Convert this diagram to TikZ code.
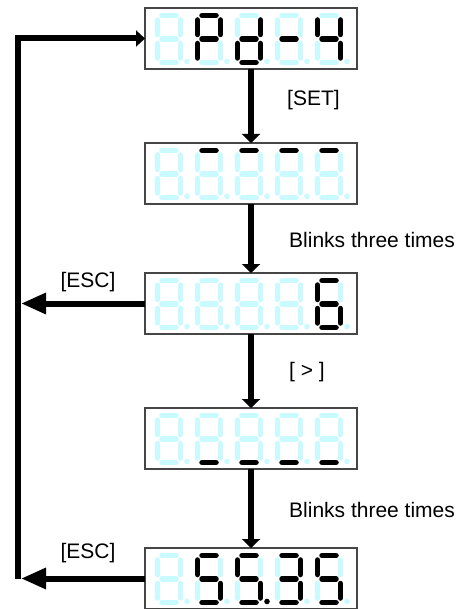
\documentclass[tikz,border=0pt]{standalone}
\usepackage{fontspec}
\setmainfont{Liberation Sans}
\usetikzlibrary{arrows.meta, positioning, calc}

\definecolor{segoff}{RGB}{200,250,255}
\definecolor{frame}{RGB}{70,70,70}

% one digit: #1 = a b c d e f g dp (1 = lit, 0 = dark)
\def\segs#1#2#3#4#5#6#7#8\relax{%
  \draw[seg, s#1] (4.5,0) -- (18.5,0);
  \draw[seg, s#2] (23,4.5) -- (23,19);
  \draw[seg, s#3] (23,28) -- (23,42.5);
  \draw[seg, s#4] (4.5,47) -- (18.5,47);
  \draw[seg, s#5] (0,28) -- (0,42.5);
  \draw[seg, s#6] (0,4.5) -- (0,19);
  \draw[seg, s#7] (4.5,23.5) -- (18.5,23.5);
  \fill[s#8] (29.5,46) circle (2.8);
}
\newcommand{\segdig}[3]{%
  \begin{scope}[shift={($(#1.north west)+(12.5+40*#2,7.5)$)}]
    \segs#3\relax
  \end{scope}}
\newcommand{\showdisp}[6]{%
  \segdig{#1}{0}{#2}\segdig{#1}{1}{#3}\segdig{#1}{2}{#4}%
  \segdig{#1}{3}{#5}\segdig{#1}{4}{#6}}

\tikzset{
  disp/.style={draw=frame, fill=white, line width=1.2pt, outer sep=0pt,
    minimum width=212pt, minimum height=61pt, inner sep=0pt},
  seg/.style={line width=5.5pt, line cap=round},
  s0/.style={color=segoff},
  s1/.style={color=black},
  down/.style={line width=5.5pt, -{Triangle[length=9pt, width=18pt]}},
  esc/.style={line width=6pt, -{Triangle[length=25pt, width=20pt]}},
  lbl/.style={font=\fontsize{21}{25}\selectfont, inner sep=0pt}
}

\begin{document}
\begin{tikzpicture}[x=1pt, y=-1pt]
    \useasboundingbox (0,0) rectangle (461,609);

    % displays
    \node[disp] (d1) at (251,38.5) {};
    \node[disp] (d2) at (251,173.5) {};
    \node[disp] (d3) at (251,303.5) {};
    \node[disp] (d4) at (251,438.5) {};
    \node[disp] (d5) at (251,578.5) {};

    \showdisp{d1}{00000000}{11001110}{01111010}{00000010}{01100110}
    \showdisp{d2}{00000000}{10000000}{10000000}{10000000}{10000000}
    \showdisp{d3}{00000000}{00000000}{00000000}{00000000}{10111110}
    \showdisp{d4}{00000000}{00010000}{00010000}{00010000}{00010000}
    \showdisp{d5}{00000000}{10110110}{10110111}{11110010}{10110110}

    % steps down
    \draw[down] (d1) -- (d2);
    \draw[down] (d2) -- (d3);
    \draw[down] (d3) -- (d4);
    \draw[down] (d4) -- (d5);

    \node[lbl, anchor=west] (set) at (287,100) {[SET]};
    \node[lbl, anchor=west] (bl1) at (289,240) {Blinks three times};
    \node[lbl, anchor=west] (nxt) at (289,372) {[ > ]};
    \node[lbl, anchor=west] (bl2) at (289,510) {Blinks three times};

    % back to the start
    \coordinate (lx) at (18,0);
    \draw[esc] (d3.west) -- ([xshift=3pt]d3.west -| lx);
    \draw[esc] (d5.west) -- ([xshift=3pt]d5.west -| lx);
    \draw[line width=6pt, -{Triangle[length=9pt, width=16pt]}]
        (d5.west -| lx) -- (d1.west -| lx) -- (d1.west);

    \node[lbl] (esc1) at (88,282) {[ESC]};
    \node[lbl] (esc2) at (88,553) {[ESC]};
\end{tikzpicture}
\end{document}
